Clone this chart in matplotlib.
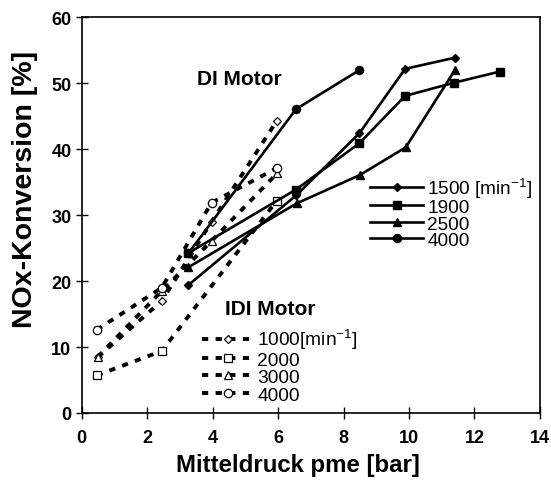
import matplotlib
matplotlib.use("Agg")
import matplotlib.pyplot as plt

plt.rcParams['font.family'] = ['Liberation Sans', 'DejaVu Sans']
plt.rcParams['mathtext.fontset'] = 'custom'
plt.rcParams['mathtext.rm'] = 'Liberation Sans'
plt.rcParams['mathtext.it'] = 'Liberation Sans:italic'
plt.rcParams['mathtext.bf'] = 'Liberation Sans:bold'

# DI Motor (solid lines)
di_1500_x = [3.26, 6.55, 8.48, 9.88, 11.4]
di_1500_y = [19.4, 33.0, 42.4, 52.2, 53.9]
di_1900_x = [3.24, 6.55, 8.48, 9.88, 11.37, 12.78]
di_1900_y = [24.2, 33.9, 40.9, 48.1, 50.1, 51.8]
di_2500_x = [3.26, 6.57, 8.5, 9.9, 11.4]
di_2500_y = [22.1, 31.8, 36.1, 40.3, 52.0]
di_4000_x = [3.26, 6.55, 8.48]
di_4000_y = [24.2, 46.1, 52.0]

# IDI Motor (dashed lines)
idi_1000_x = [0.5, 2.45, 3.97, 5.96]
idi_1000_y = [8.5, 17.0, 29.0, 44.3]
idi_2000_x = [0.46, 2.45, 5.96]
idi_2000_y = [5.7, 9.4, 32.2]
idi_3000_x = [0.49, 2.45, 3.97, 5.98]
idi_3000_y = [8.5, 18.5, 26.1, 36.4]
idi_4000_x = [0.46, 2.45, 3.97, 5.98]
idi_4000_y = [12.6, 19.0, 31.9, 37.2]

di_labels = ['1500 [min$^{-1}$]', '1900', '2500', '4000']
idi_labels = ['1000[min$^{-1}$]', '2000', '3000', '4000']

fig = plt.figure(figsize=(5.51, 4.85), dpi=100)
ax = fig.add_axes([0.148, 0.1464, 0.832, 0.8155])

dash = (0, (1.6, 1.9))
idi_specs = [
    (idi_1000_x, idi_1000_y, 'D', 4.2),
    (idi_2000_x, idi_2000_y, 's', 6.0),
    (idi_3000_x, idi_3000_y, '^', 6.0),
    (idi_4000_x, idi_4000_y, 'o', 6.0),
]
idi_handles = []
for (x, y, m, ms), lab in zip(idi_specs, idi_labels):
    h, = ax.plot(x, y, color='black', lw=2.8, linestyle=dash, marker=m,
                 markersize=ms, markerfacecolor='white', markeredgecolor='black',
                 markeredgewidth=0.9, label=lab, zorder=2)
    idi_handles.append(h)

di_specs = [
    (di_1500_x, di_1500_y, 'D', 4.0),
    (di_1900_x, di_1900_y, 's', 6.2),
    (di_2500_x, di_2500_y, '^', 6.0),
    (di_4000_x, di_4000_y, 'o', 5.8),
]
di_handles = []
for (x, y, m, ms), lab in zip(di_specs, di_labels):
    h, = ax.plot(x, y, color='black', lw=1.9, linestyle='-', marker=m,
                 markersize=ms, markerfacecolor='black', markeredgecolor='black',
                 label=lab, zorder=3)
    di_handles.append(h)

ax.set_xlim(0, 14)
ax.set_ylim(0, 60)
ax.set_xticks(range(0, 15, 2))
ax.set_yticks(range(0, 61, 10))
ax.tick_params(direction='inout', length=8.5, width=1.0, labelsize=13)
ax.tick_params(axis='x', pad=7.5)
ax.tick_params(axis='y', pad=3)
for lab in ax.get_xticklabels() + ax.get_yticklabels():
    lab.set_fontweight('bold')
for s in ax.spines.values():
    s.set_linewidth(1.2)

ax.set_xlabel('Mitteldruck pme [bar]', fontsize=17.3, fontweight='bold', labelpad=5)
ax.set_ylabel('NOx-Konversion [%]', fontsize=20.5, fontweight='bold', labelpad=9.5)
ax.xaxis.label.set_x(0.472)
ax.yaxis.label.set_y(0.568)

ax.text(4.83, 50.7, 'DI Motor', fontsize=15, fontweight='bold', ha='center', va='center')
ax.text(4.38, 15.9, 'IDI Motor', fontsize=15, fontweight='bold', ha='left', va='center')

leg1 = ax.legend(handles=di_handles, loc='upper left', bbox_to_anchor=(0.63, 0.60),
                 frameon=False, fontsize=13.7, handlelength=2.75, handletextpad=0.25,
                 labelspacing=-0.05, borderpad=0.0, borderaxespad=0.0)
ax.add_artist(leg1)
leg2 = ax.legend(handles=idi_handles, loc='upper left', bbox_to_anchor=(0.262, 0.217),
                 frameon=False, fontsize=13.8, handlelength=2.75, handletextpad=0.15,
                 labelspacing=0.0, borderpad=0.0, borderaxespad=0.0)

fig.savefig('out.png', dpi=100)
